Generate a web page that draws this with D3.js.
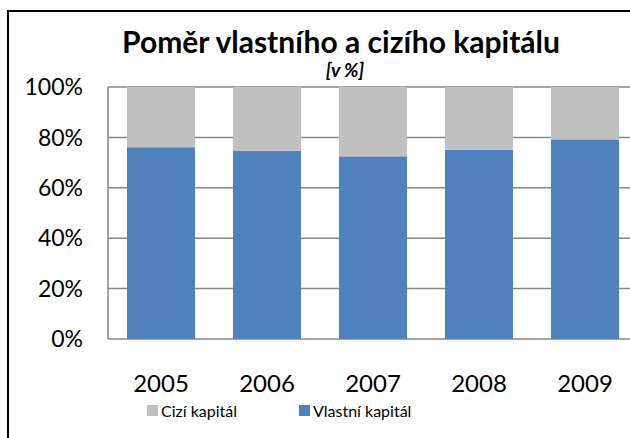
<!DOCTYPE html>
<meta charset="utf-8">
<style>
body { margin: 0; background: #fff; }
text { font-family: Lato, "Noto Sans", sans-serif; fill: #000; }
</style>
<svg width="630" height="438"></svg>
<script src="https://d3js.org/d3.v7.min.js"></script>
<script>

var years = ["2005", "2006", "2007", "2008", "2009"];
var vlastni = [76.1, 74.7, 72.5, 75.1, 79.2];
var cizi = [23.9, 25.3, 27.5, 24.9, 20.8];
var yTicks = [0, 20, 40, 60, 80, 100];
var seriesNames = ["Cizí kapitál", "Vlastní kapitál"];
var seriesColors = ["#c0c0c0", "#4f81bd"];

var svg = d3.select("svg");

// outer chart frame (runs off the right/bottom edge like the reference)
svg.append("rect")
    .attr("x", 8).attr("y", 11)
    .attr("width", 640).attr("height", 440)
    .attr("fill", "none")
    .attr("stroke", "#000")
    .attr("stroke-width", 2);

var plotLeft = 108, plotTop = 87, plotBottom = 339;

var x = d3.scaleBand()
    .domain(years)
    .range([plotLeft, plotLeft + 530])
    .paddingInner(0.358)
    .paddingOuter(0.179);

var y = d3.scaleLinear()
    .domain([0, 100])
    .range([plotBottom, plotTop]);

// gridlines
svg.append("g")
  .selectAll("line")
  .data(yTicks)
  .enter().append("line")
    .attr("x1", plotLeft).attr("x2", 630)
    .attr("y1", function(d) { return y(d); })
    .attr("y2", function(d) { return y(d); })
    .attr("stroke", "#868686")
    .attr("stroke-width", 1.5);

svg.append("line")
    .attr("x1", plotLeft).attr("x2", plotLeft)
    .attr("y1", plotTop).attr("y2", plotBottom)
    .attr("stroke", "#868686")
    .attr("stroke-width", 1.5);

var rows = years.map(function(yr, i) { return {year: yr, v: vlastni[i], c: cizi[i]}; });

var bars = svg.append("g");
bars.selectAll("rect.v")
  .data(rows)
  .enter().append("rect")
    .attr("class", "v")
    .attr("x", function(d) { return x(d.year); })
    .attr("width", x.bandwidth())
    .attr("y", function(d) { return y(d.v); })
    .attr("height", function(d) { return y(0) - y(d.v); })
    .attr("fill", seriesColors[1]);

bars.selectAll("rect.c")
  .data(rows)
  .enter().append("rect")
    .attr("class", "c")
    .attr("x", function(d) { return x(d.year); })
    .attr("width", x.bandwidth())
    .attr("y", function(d) { return y(d.v + d.c); })
    .attr("height", function(d) { return y(d.v) - y(d.v + d.c); })
    .attr("fill", seriesColors[0]);

// y labels
svg.append("g")
  .selectAll("text")
  .data(yTicks)
  .enter().append("text")
    .attr("x", 83)
    .attr("y", function(d) { return y(d); })
    .attr("dy", "0.36em")
    .attr("text-anchor", "end")
    .style("font-size", "23px")
    .text(function(d) { return d + "%"; });

// x labels
svg.append("g")
  .selectAll("text")
  .data(years)
  .enter().append("text")
    .attr("x", function(d) { return x(d) + x.bandwidth() / 2; })
    .attr("y", 392)
    .attr("text-anchor", "middle")
    .style("font-size", "24px")
    .text(function(d) { return d; });

// title
svg.append("text")
    .attr("x", 341).attr("y", 53)
    .attr("text-anchor", "middle")
    .style("font-size", "30px")
    .style("font-weight", "bold")
    .text("Poměr vlastního a cizího kapitálu");

svg.append("text")
    .attr("x", 345).attr("y", 77)
    .attr("text-anchor", "middle")
    .style("font-size", "19px")
    .style("font-weight", "bold")
    .style("font-style", "italic")
    .text("[v %]");

// legend
var legendX = [147, 299];
var lg = svg.append("g")
  .selectAll("g")
  .data(seriesNames)
  .enter().append("g")
    .attr("transform", function(d, i) { return "translate(" + legendX[i] + ",405)"; });

lg.append("rect")
    .attr("width", 11).attr("height", 11)
    .attr("fill", function(d, i) { return seriesColors[i]; });

lg.append("text")
    .attr("x", 14).attr("y", 12)
    .style("font-size", "16px")
    .text(function(d) { return d; });

</script>
